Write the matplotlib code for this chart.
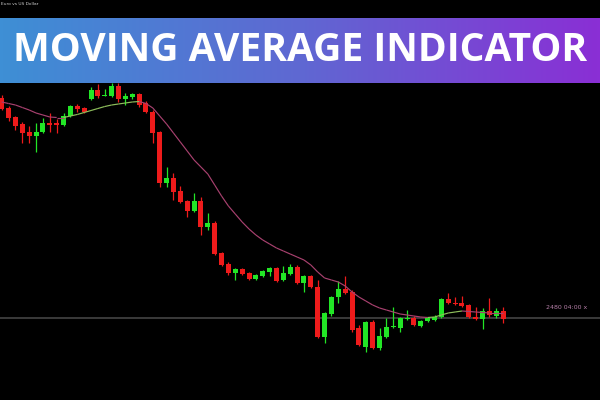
import numpy as np
import matplotlib
matplotlib.use("Agg")
import matplotlib.pyplot as plt
from matplotlib.collections import LineCollection
from matplotlib.colors import LinearSegmentedColormap

# ---- data (price units) ----
opens = [302, 292, 283, 276, 268, 264, 268, 277, 277, 275, 284, 294, 292, 301, 310, 304, 304, 314,
         301, 303, 306, 297, 288, 268, 217, 222, 209, 199, 189, 199, 173, 177, 147, 136, 127, 131,
         127, 121, 124, 128, 132, 120, 126, 133, 117, 124, 113, 63, 86, 103, 111, 108, 72, 53,
         78, 52, 63, 73, 72, 81, 82, 74, 79, 80, 83, 101, 97, 97, 95, 83, 81, 89, 84, 89]
closes = [291, 282, 274, 267, 264, 268, 277, 275, 275, 284, 294, 291, 288, 310, 304, 305, 314, 301,
          304, 306, 295, 288, 267, 217, 222, 208, 198, 189, 199, 173, 177, 146, 135, 127, 131, 126,
          121, 125, 129, 132, 119, 127, 133, 117, 124, 113, 63, 87, 103, 111, 107, 70, 55, 78,
          52, 64, 73, 74, 82, 82, 75, 79, 82, 83, 101, 97, 96, 94, 83, 81, 89, 85, 89, 81]
highs = [305, 294, 284, 278, 274, 277, 282, 287, 281, 287, 295, 296, 293, 313, 316, 311, 317, 317,
         307, 307, 307, 299, 290, 269, 233, 227, 214, 200, 207, 203, 187, 179, 148, 138, 132, 132,
         128, 126, 130, 133, 133, 134, 136, 135, 125, 125, 120, 88, 104, 119, 124, 110, 75, 79,
         80, 72, 82, 93, 83, 90, 84, 80, 83, 85, 102, 107, 103, 104, 96, 93, 92, 102, 92, 93]
lows = [290, 279, 270, 257, 257, 248, 267, 268, 267, 274, 283, 288, 287, 300, 302, 304, 303, 298,
        295, 301, 293, 287, 257, 213, 213, 200, 197, 183, 188, 165, 170, 145, 134, 125, 120, 125,
        120, 120, 123, 124, 118, 119, 125, 116, 108, 112, 62, 57, 84, 97, 106, 68, 54, 48,
        51, 50, 62, 72, 68, 80, 74, 73, 78, 79, 82, 96, 95, 93, 82, 80, 71, 83, 82, 77]
ma = [298, 296.5, 295, 292.5, 290, 287, 285, 283, 282.5, 282.5, 284, 285.5, 287.5, 289.5, 291.5,
      293.5, 295, 296, 297, 298, 298.5, 296.5, 292, 284, 276, 267, 258, 249, 240, 233, 226, 215,
      204, 194, 186, 178, 171, 165, 160, 156, 152, 149, 146, 143, 140, 135, 128, 122, 120, 118,
      114, 108, 103, 99, 95, 92, 90, 88, 86, 85, 84, 83, 82.5, 83, 85, 87, 88, 89, 88.5, 88,
      87.5, 87, 87, 87]
current_price = 82
price_label = "2480 04:00 x"
symbol_label = "Euro vs US Dollar"
title = "MOVING AVERAGE INDICATOR"

UP = "#22e626"
DOWN = "#ee1b1b"
MA_UP = "#8fbf5c"
MA_DOWN = "#a8416f"

fig = plt.figure(figsize=(6, 4), dpi=100, facecolor="black")
ax = fig.add_axes([0, 0, 1, 1], facecolor="black")
ax.set_axis_off()
step = 6.87
left = -1.7 / step
ax.set_xlim(left, left + 600 / step)
ax.set_ylim(0, 400)

x = np.arange(len(opens))
o = np.array(opens, float); c = np.array(closes, float)
h = np.array(highs, float); l = np.array(lows, float)
up = c >= o
cols = np.where(up, UP, DOWN)

ax.axhline(current_price, color="#444444", lw=1.2, zorder=1)

ax.vlines(x, l, h, colors=cols, lw=0.9, zorder=2)
bottom = np.minimum(o, c)
height = np.maximum(np.abs(c - o), 1.2)
ax.bar(x, height, bottom=bottom, width=0.73, color=cols, zorder=3, linewidth=0)

m = np.array(ma, float)
pts = np.column_stack([x, m])
segs = np.stack([pts[:-1], pts[1:]], axis=1)
segcols = [MA_UP if m[i + 1] > m[i] else MA_DOWN for i in range(len(m) - 1)]
ax.add_collection(LineCollection(segs, colors=segcols, linewidths=0.85, zorder=4))

ax.text(left + 567 / step, 400 - 307.5, price_label, color="#b57fa8", fontsize=4.5,
        ha="center", va="center", family="DejaVu Sans")
fig.text(0.002, 1 - 3.8 / 400, symbol_label, color="#cfcfcf", fontsize=3.2,
         ha="left", va="center")

# banner
top_px, bot_px = 17.5, 83
bax = fig.add_axes([0, 1 - bot_px / 400, 1, (bot_px - top_px) / 400], zorder=5)
bax.set_axis_off()
cmap = LinearSegmentedColormap.from_list("b", ["#3e8fd5", "#5f68d2", "#8a2fd5"])
bax.imshow(np.linspace(0, 1, 600)[None, :], aspect="auto", cmap=cmap, extent=[0, 1, 0, 1])
bax.set_xlim(0, 1); bax.set_ylim(0, 1)
t = bax.text(0.5, 0.5, title, color="white", fontsize=30, fontweight="bold",
             family="Open Sans", ha="center", va="center")
fig.canvas.draw()
bb = t.get_window_extent(renderer=fig.canvas.get_renderer())
t.set_fontsize(30 * 574 / bb.width)
fig.savefig("out.png", dpi=100, facecolor="black")
